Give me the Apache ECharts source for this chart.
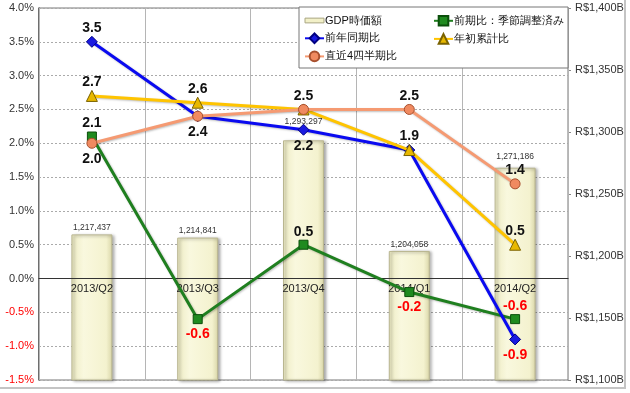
<!DOCTYPE html>
<html>
<head>
<meta charset="utf-8">
<script src="https://cdn.jsdelivr.net/npm/echarts@6/dist/echarts.min.js"></script>
<style>
html,body{margin:0;padding:0;background:#fff;}
#c{width:630px;height:393px;}
</style>
</head>
<body>
<div id="c"></div>
<script>
// ---- data ----
var categories = ['2013/Q2', '2013/Q3', '2013/Q4', '2014/Q1', '2014/Q2'];
var gdpValues = [1217437, 1214841, 1293297, 1204058, 1271186];
var qoqSA = [2.1, -0.6, 0.5, -0.2, -0.6];        // 前期比：季節調整済み
var yoy = [3.5, 2.4, 2.2, 1.9, -0.9];            // 前年同期比
var ytd = [2.7, 2.6, 2.5, 1.9, 0.5];             // 年初累計比
var last4q = [2.0, 2.4, 2.5, 2.5, 1.4];          // 直近4四半期比
var leftTicks = { min: -1.5, max: 4.0, step: 0.5 };
var rightTicks = { min: 1100000, max: 1400000, step: 50000 };

// ---- label placement (style, separate from data) ----
var qoqPos = ['top', 'bottom', 'top', 'bottom', 'top'];
var yoyPos = ['top', 'bottom', 'bottom', 'top', 'bottom'];
var ytdPos = ['top', 'top', null, null, 'top'];
var l4Pos = ['bottom', null, 'top', 'top', 'top'];
var barLabelOffset = [0, 0, -12, 0, -5];

var FONT = '"Liberation Sans", Arial, sans-serif';

function fmtComma(v) {
  return String(Math.round(v)).replace(/\B(?=(\d{3})+(?!\d))/g, ',');
}

function lineData(vals, pos) {
  return vals.map(function (v, i) {
    var p = pos[i];
    return {
      value: v,
      label: p ? {
        show: true, position: p, distance: p === 'bottom' ? 3 : 1,
        color: v < 0 ? '#ff0000' : '#111',
        fontWeight: 'bold', fontSize: 14, fontFamily: FONT,
        formatter: function (d) { return d.value.toFixed(1); }
      } : { show: false }
    };
  });
}

var barData = gdpValues.map(function (v, i) {
  return {
    value: v,
    label: {
      show: true, position: 'top', distance: 2, offset: [0, barLabelOffset[i]],
      fontSize: 8.5, color: '#333', fontFamily: FONT,
      formatter: function (d) { return fmtComma(d.value); }
    }
  };
});

var lineCommon = {
  type: 'line',
  yAxisIndex: 0,
  lineStyle: { width: 3, shadowColor: 'rgba(0,0,0,0.25)', shadowBlur: 2, shadowOffsetX: 1, shadowOffsetY: 1 },
  animation: false
};

var legendText = { fontSize: 11, color: '#111', fontFamily: FONT, padding: [0, 0, 0, -4] };

var chart = echarts.init(document.getElementById('c'), null, { renderer: 'canvas' });
chart.setOption({
  animation: false,
  backgroundColor: '#ffffff',
  textStyle: { fontFamily: FONT },
  grid: { left: 39, right: 62, top: 8, bottom: 13, show: true, borderColor: '#777', borderWidth: 1, backgroundColor: '#fff' },
  legend: [
    {
      orient: 'vertical', left: 304, top: 15, itemGap: 6.5, itemWidth: 19, itemHeight: 12, z: 10,
      textStyle: legendText, padding: 0,
      data: [
        { name: 'GDP時価額', icon: 'path://M0,0 L20,0 L20,5 L0,5 Z', itemStyle: { color: '#f2f0c8', borderColor: '#a9a682', borderWidth: 1 } },
        { name: '前年同期比' },
        { name: '直近4四半期比' }
      ]
    },
    {
      orient: 'vertical', left: 433, top: 15, itemGap: 6.5, itemWidth: 19, itemHeight: 12, z: 10,
      textStyle: legendText, padding: 0,
      data: [{ name: '前期比：季節調整済み' }, { name: '年初累計比' }]
    }
  ],
  graphic: {
    elements: [
      { type: 'rect', z: 5, shape: { x: 299, y: 7, width: 269, height: 61 }, style: { fill: '#fff', stroke: '#777', lineWidth: 1 } },
      { type: 'line', z: 5, shape: { x1: 625, y1: 0, x2: 625, y2: 388 }, style: { stroke: '#c4c4c4', lineWidth: 2 } },
      { type: 'line', z: 5, shape: { x1: 0, y1: 388, x2: 626, y2: 388 }, style: { stroke: '#c4c4c4', lineWidth: 2 } }
    ]
  },
  xAxis: {
    type: 'category',
    z: 2,
    data: categories,
    boundaryGap: true,
    axisLine: { onZero: true, lineStyle: { color: '#333', width: 1.2 } },
    axisTick: { show: false },
    axisLabel: { fontSize: 11, color: '#222', margin: -97, fontFamily: FONT, interval: 0 },
    splitLine: { show: true, interval: 0, lineStyle: { color: '#b5b5b5', width: 1 } }
  },
  yAxis: [
    {
      type: 'value',
      min: leftTicks.min, max: leftTicks.max, interval: leftTicks.step,
      axisLine: { show: true, lineStyle: { color: '#555', width: 1.5 } },
      axisTick: { show: false },
      axisLabel: {
        fontSize: 11, margin: 5, fontFamily: FONT,
        formatter: function (v) { return v.toFixed(1) + '%'; },
        color: function (v) { return parseFloat(v) < 0 ? '#ff0000' : '#333'; }
      },
      splitLine: { show: true, lineStyle: { color: '#aaa', type: [2, 2], width: 1 } }
    },
    {
      type: 'value',
      position: 'right',
      min: rightTicks.min, max: rightTicks.max, interval: rightTicks.step,
      axisLine: { show: true, lineStyle: { color: '#888', width: 1 } },
      axisTick: { show: true, length: 3, lineStyle: { color: '#888' } },
      axisLabel: {
        fontSize: 11, color: '#333', margin: 7, fontFamily: FONT,
        formatter: function (v) { return 'R$' + fmtComma(v / 1000) + 'B'; }
      },
      splitLine: { show: false }
    }
  ],
  series: [
    {
      name: 'GDP時価額', type: 'bar', yAxisIndex: 1, barWidth: 41, z: 1,
      data: barData,
      itemStyle: {
        color: new echarts.graphic.LinearGradient(0, 0, 1, 0, [
          { offset: 0, color: '#edebc3' },
          { offset: 0.3, color: '#f9f8de' },
          { offset: 0.85, color: '#f4f2cf' },
          { offset: 1, color: '#d9d6a8' }
        ]),
        borderColor: '#b9b690', borderWidth: 1,
        shadowColor: 'rgba(0,0,0,0.35)', shadowBlur: 3, shadowOffsetX: 2, shadowOffsetY: 1
      }
    },
    Object.assign({}, lineCommon, {
      name: '前期比：季節調整済み', data: lineData(qoqSA, qoqPos), z: 3,
      symbol: 'rect', symbolSize: 9,
      lineStyle: Object.assign({}, lineCommon.lineStyle, { color: '#1f7f1f' }),
      itemStyle: { color: '#1f8a1f', borderColor: '#0b4f0b', borderWidth: 1 }
    }),
    Object.assign({}, lineCommon, {
      name: '前年同期比', data: lineData(yoy, yoyPos), z: 4,
      symbol: 'diamond', symbolSize: 11,
      lineStyle: Object.assign({}, lineCommon.lineStyle, { color: '#0a0af0' }),
      itemStyle: { color: '#1a1ae0', borderColor: '#000080', borderWidth: 1 }
    }),
    Object.assign({}, lineCommon, {
      name: '年初累計比', data: lineData(ytd, ytdPos), z: 5,
      symbol: 'triangle', symbolSize: 11,
      lineStyle: Object.assign({}, lineCommon.lineStyle, { color: '#ffc400' }),
      itemStyle: { color: '#e8b800', borderColor: '#7a6200', borderWidth: 1 }
    }),
    Object.assign({}, lineCommon, {
      name: '直近4四半期比', data: lineData(last4q, l4Pos), z: 6,
      symbol: 'circle', symbolSize: 10,
      lineStyle: Object.assign({}, lineCommon.lineStyle, { color: '#f59a72' }),
      itemStyle: { color: '#f08a60', borderColor: '#a8502e', borderWidth: 1 }
    })
  ]
});
</script>
</body>
</html>
